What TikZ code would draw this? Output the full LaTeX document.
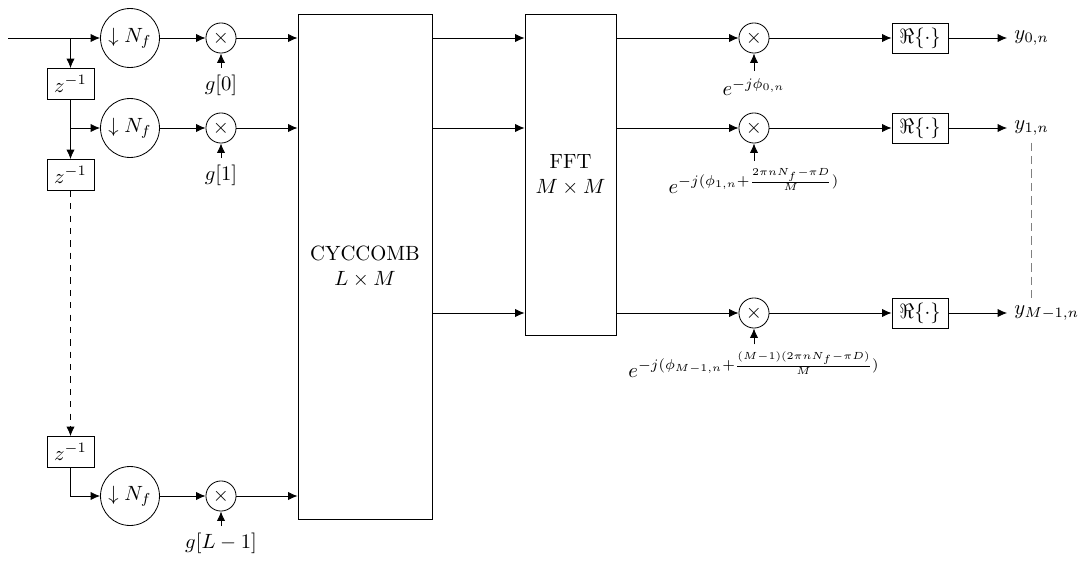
\documentclass[tikz,border=0pt]{standalone}
\usepackage{amsmath,amssymb}
\usetikzlibrary{arrows.meta,positioning,calc}

\begin{document}
\begin{tikzpicture}[
  x=0.485pt, y=-0.485pt,
  >={Latex[length=4.6pt,width=4pt]},
  dsamp/.style={draw, circle, minimum size=28.6pt, inner sep=1pt},
  mult/.style={draw, circle, minimum size=14.6pt, inner sep=1pt},
  delay/.style={draw, minimum width=22.8pt, minimum height=15pt, inner sep=1pt},
  realbox/.style={draw, minimum width=27.2pt, minimum height=14.6pt, inner sep=1pt},
  bigbox/.style={draw, align=center}
]
\useasboundingbox (0,0) rectangle (1091,561);

% polyphase branches
\coordinate (in) at (8,38);
\node[delay] (z0) at (70.5,84) {$z^{-1}$};
\node[delay] (z1) at (70.5,175) {$z^{-1}$};
\node[delay] (z2) at (70.5,452) {$z^{-1}$};
\node[dsamp] (d0) at (130,38) {$\downarrow N_f$};
\node[dsamp] (d1) at (130,128) {$\downarrow N_f$};
\node[dsamp] (d2) at (130,496) {$\downarrow N_f$};
\node[mult] (m0) at (221,38) {$\times$};
\node[mult] (m1) at (221,128) {$\times$};
\node[mult] (m2) at (221,496) {$\times$};
\node[below=2.5mm of m0] (g0) {$g[0]$};
\node[below=2.5mm of m1] (g1) {$g[1]$};
\node[below=2.5mm of m2] (g2) {$g[L-1]$};

% combining and transform
\node[bigbox, minimum width=65pt, minimum height=245pt] (cyc) at (365,266.5) {CYCCOMB\\$L\times M$};
\node[bigbox, minimum width=44.1pt, minimum height=155.7pt] (fft) at (570.5,174.5) {FFT\\$M\times M$};

% phase correction and outputs
\node[mult] (p0) at (754,38) {$\times$};
\node[mult] (p1) at (754,128) {$\times$};
\node[mult] (p2) at (754,313) {$\times$};
\node[below=3mm of p0] (e0) {$e^{-j\phi_{0,n}}$};
\node[below=3mm of p1] (e1) {$e^{-j(\phi_{1,n}+\frac{2\pi nN_f-\pi D}{M})}$};
\node[below=2.7mm of p2] (e2) {$e^{-j(\phi_{M-1,n}+\frac{(M-1)(2\pi nN_f-\pi D)}{M})}$};
\node[realbox] (r0) at (920,38) {$\Re\{\cdot\}$};
\node[realbox] (r1) at (920,128) {$\Re\{\cdot\}$};
\node[realbox] (r2) at (920,313) {$\Re\{\cdot\}$};
\node[right=10mm of r0] (y0) {$y_{0,n}$};
\node[right=10mm of r1] (y1) {$y_{1,n}$};
\node[right=10mm of r2] (y2) {$y_{M-1,n}$};

% delay line
\draw[->] (in) -- (d0);
\draw[->] (z0 |- d0) -- (z0);
\draw[->] (z0) -- (z1);
\draw[->] (z0 |- d1) -- (d1);
\draw[->, dashed] (z1) -- (z2);
\draw[->] (z2) |- (d2);

% branches into CYCCOMB
\draw[->] (d0) -- (m0);
\draw[->] (d1) -- (m1);
\draw[->] (d2) -- (m2);
\draw[->] (g0) -- (m0);
\draw[->] (g1) -- (m1);
\draw[->] (g2) -- (m2);
\draw[->] (m0) -- (m0 -| cyc.west);
\draw[->] (m1) -- (m1 -| cyc.west);
\draw[->] (m2) -- (m2 -| cyc.west);

% CYCCOMB to FFT to outputs
\draw[->] (p0 -| cyc.east) -- (p0 -| fft.west);
\draw[->] (p1 -| cyc.east) -- (p1 -| fft.west);
\draw[->] (p2 -| cyc.east) -- (p2 -| fft.west);
\draw[->] (p0 -| fft.east) -- (p0);
\draw[->] (p1 -| fft.east) -- (p1);
\draw[->] (p2 -| fft.east) -- (p2);
\draw[->] (e0) -- (p0);
\draw[->] (e1) -- (p1);
\draw[->] (e2) -- (p2);
\draw[->] (p0) -- (r0);
\draw[->] (p1) -- (r1);
\draw[->] (p2) -- (r2);
\draw[->] (r0) -- (y0);
\draw[->] (r1) -- (y1);
\draw[->] (r2) -- (y2);
\draw[gray, semithick, dash pattern=on 4pt off 2.5pt] (y1.south) -- (y1.south |- y2.north);
\end{tikzpicture}
\end{document}
